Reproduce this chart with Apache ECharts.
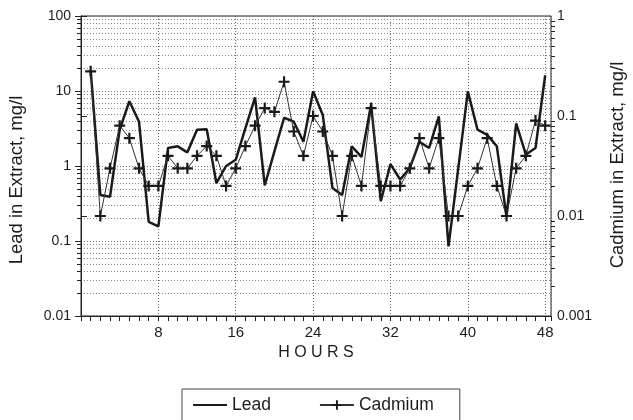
<!DOCTYPE html>
<html><head><meta charset="utf-8">
<script src="https://cdn.jsdelivr.net/npm/echarts@6/dist/echarts.min.js"></script>
<style>html,body{margin:0;padding:0;background:#fff}#c{width:633px;height:420px}</style>
</head><body><div id="c"></div>
<script>
const hours = [1,2,3,4,5,6,7,8,9,10,11,12,13,14,15,16,17,18,19,20,21,22,23,24,25,26,27,28,29,30,31,32,33,34,35,36,37,38,39,40,41,42,43,44,45,46,47,48];
const lead = [19,0.41,0.39,3.05,7.3,3.9,0.18,0.157,1.74,1.83,1.52,3.05,3.1,0.59,1.0,1.21,3.2,8.2,0.55,1.57,4.4,3.9,2.1,9.9,4.8,0.51,0.41,1.83,1.32,6.6,0.34,1.06,0.66,0.94,2.1,1.74,4.6,0.085,0.91,9.9,3.05,2.6,1.83,0.21,3.7,1.42,1.74,16.2];
const cadmium = [0.28,0.01,0.03,0.08,0.06,0.03,0.02,0.02,0.04,0.03,0.03,0.04,0.05,0.04,0.02,0.03,0.05,0.08,0.12,0.11,0.22,0.07,0.04,0.1,0.07,0.04,0.01,0.04,0.02,0.12,0.02,0.02,0.02,0.03,0.06,0.03,0.06,0.01,0.01,0.02,0.03,0.06,0.02,0.01,0.03,0.04,0.09,0.08];
const xTickLabels = [8,16,24,32,40,48];
const leftTickLabels = ['0.01','0.1','1','10','100'];
const rightTickLabels = ['0.001','0.01','0.1','1'];
const seriesNames = ['Lead','Cadmium'];
const xTitle = 'H O U R S';
const leftTitle = 'Lead in Extract, mg/l';
const rightTitle = 'Cadmium in Extract, mg/l';

const FONT = 'Liberation Sans, Arial, Helvetica, sans-serif';
const INK = '#1c1c1c';
const xMax = 48.6;
function pickLabel(list, v){
  const s = list.find(t => Math.abs(Math.log10(+t) - Math.log10(v)) < 1e-6);
  return s === undefined ? '' : s;
}
const plus = 'path://M4,0H6V4H10V6H6V10H4V6H0V4H4Z';

const option = {
  backgroundColor: '#fff',
  animation: false,
  textStyle: {fontFamily: FONT, color: INK},
  grid: {left: 81, right: 82, top: 16, bottom: 104, show: true, borderColor: '#222', borderWidth: 1, backgroundColor: 'transparent'},
  legend: {
    left: 182, top: 389, orient: 'horizontal',
    data: [{name: seriesNames[0], itemStyle: {opacity: 0}}, {name: seriesNames[1]}],
    itemWidth: 34, itemHeight: 12, itemGap: 48,
    padding: [7, 26, 12, 10],
    borderColor: '#444', borderWidth: 1,
    textStyle: {fontSize: 17.5, color: INK, fontFamily: FONT}
  },
  xAxis: [{
    type: 'value', min: 0, max: xMax, interval: 1, position: 'bottom',
    axisLine: {show: true, lineStyle: {color: '#222', width: 1}},
    axisTick: {show: true, inside: false, length: 5, lineStyle: {color: '#222'}},
    axisLabel: {fontSize: 15, color: INK, fontFamily: FONT, margin: 9,
      formatter: v => (xTickLabels.indexOf(Math.round(v)) >= 0 && Math.abs(v - Math.round(v)) < 1e-6) ? String(Math.round(v)) : ''},
    splitLine: {show: false},
    name: xTitle, nameLocation: 'middle', nameGap: 28,
    nameTextStyle: {fontSize: 16, color: INK, fontFamily: FONT}
  }, {
    type: 'value', min: 0, max: xMax, interval: 8, position: 'bottom',
    axisLine: {show: false}, axisTick: {show: false}, axisLabel: {show: false},
    splitLine: {show: true, lineStyle: {color: '#666', width: 1, type: [1, 2]}}
  }],
  yAxis: [{
    type: 'log', logBase: 10, min: 0.01, max: 100, splitNumber: 4, position: 'left',
    axisLine: {show: true, lineStyle: {color: '#222', width: 1}},
    axisTick: {show: true, inside: false, length: 6, lineStyle: {color: '#222'}},
    axisLabel: {fontSize: 14, color: INK, fontFamily: FONT, margin: 10, formatter: v => pickLabel(leftTickLabels, v)},
    splitLine: {show: true, lineStyle: {color: '#777', width: 1, type: [1, 2]}}
  }, {
    type: 'log', logBase: 10, min: 0.001, max: 1, splitNumber: 3, position: 'right',
    axisLine: {show: true, lineStyle: {color: '#222', width: 1}},
    axisTick: {show: true, inside: false, length: 6, lineStyle: {color: '#222'}},
    axisLabel: {fontSize: 14, color: INK, fontFamily: FONT, margin: 6, formatter: v => pickLabel(rightTickLabels, v)},
    splitLine: {show: false}
  }],
  series: [{
    name: seriesNames[0], type: 'line', xAxisIndex: 0, yAxisIndex: 0,
    data: hours.map((h, i) => [h, lead[i]]),
    symbol: 'none', showSymbol: false,
    lineStyle: {color: '#1a1a1a', width: 2.5},
    itemStyle: {color: '#1a1a1a'}, z: 3
  }, {
    name: seriesNames[1], type: 'line', xAxisIndex: 0, yAxisIndex: 1,
    data: hours.map((h, i) => [h, cadmium[i]]),
    symbol: plus, symbolSize: 11, showSymbol: true,
    lineStyle: {color: '#333', width: 1},
    itemStyle: {color: '#1a1a1a', borderWidth: 0}, z: 4
  }]
};

const chart = echarts.init(document.getElementById('c'), null, {renderer: 'canvas'});
chart.setOption(option);

const g = [];
const xL = chart.convertToPixel({xAxisIndex: 0}, 0);
const xR = chart.convertToPixel({xAxisIndex: 0}, xMax);
for (let e = -2; e < 2; e++) {
  for (let m = 2; m <= 9; m++) {
    const v = m * Math.pow(10, e);
    const y = Math.round(chart.convertToPixel({yAxisIndex: 0}, v)) + 0.5;
    g.push({type: 'line', silent: true, z: 0, shape: {x1: xL, y1: y, x2: xR, y2: y}, style: {stroke: '#888', lineWidth: 1, lineDash: [1, 2]}});
    g.push({type: 'line', silent: true, z: 1, shape: {x1: xL - 4, y1: y, x2: xL, y2: y}, style: {stroke: '#222', lineWidth: 1}});
  }
}
for (let e = -3; e < 0; e++) {
  for (let m = 2; m <= 9; m++) {
    const v = m * Math.pow(10, e);
    const y = Math.round(chart.convertToPixel({yAxisIndex: 1}, v)) + 0.5;
    g.push({type: 'line', silent: true, z: 1, shape: {x1: xR, y1: y, x2: xR + 4, y2: y}, style: {stroke: '#222', lineWidth: 1}});
  }
}
g.push({type: 'text', silent: true, x: 17, y: 180, rotation: Math.PI / 2,
  style: {text: leftTitle, font: '18.5px ' + FONT, fill: INK, align: 'center', verticalAlign: 'middle'}});
g.push({type: 'text', silent: true, x: 618, y: 165, rotation: Math.PI / 2,
  style: {text: rightTitle, font: '18.5px ' + FONT, fill: INK, align: 'center', verticalAlign: 'middle'}});
chart.setOption({graphic: g});
</script>
</body></html>
